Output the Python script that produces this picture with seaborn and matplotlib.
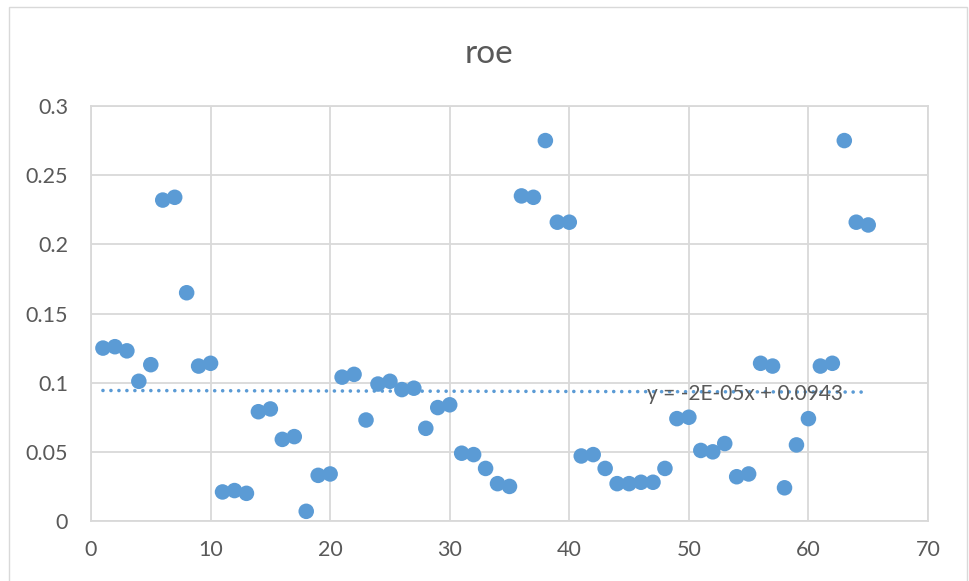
import numpy as np
import pandas as pd
import matplotlib
matplotlib.use("Agg")
import matplotlib.pyplot as plt
import seaborn as sns
from matplotlib.patches import Rectangle

x_vals = list(range(1, 66))
roe = [0.125, 0.126, 0.123, 0.101, 0.113, 0.232, 0.234, 0.165, 0.112, 0.114,
       0.021, 0.022, 0.020, 0.079, 0.081, 0.059, 0.061, 0.007, 0.033, 0.034,
       0.104, 0.106, 0.073, 0.099, 0.101, 0.095, 0.096, 0.067, 0.082, 0.084,
       0.049, 0.048, 0.038, 0.027, 0.025, 0.235, 0.234, 0.275, 0.216, 0.216,
       0.047, 0.048, 0.038, 0.027, 0.027, 0.028, 0.028, 0.038, 0.074, 0.075,
       0.051, 0.050, 0.056, 0.032, 0.034, 0.114, 0.112, 0.024, 0.055, 0.074,
       0.112, 0.114, 0.275, 0.216, 0.214]
title = "roe"
trend_label = "y = -2E-05x + 0.0943"
x_ticks = [0, 10, 20, 30, 40, 50, 60, 70]
y_ticks = [0, 0.05, 0.1, 0.15, 0.2, 0.25, 0.3]
y_tick_labels = ["0", "0.05", "0.1", "0.15", "0.2", "0.25", "0.3"]

df = pd.DataFrame({"x": x_vals, "roe": roe})

sns.set_theme(style="white")
plt.rcParams["font.family"] = ["Lato", "DejaVu Sans"]

W, H = 969, 581
fig = plt.figure(figsize=(W / 100, H / 100), dpi=100)
ax = fig.add_axes([91 / W, (H - 521) / H, (928 - 91) / W, (521 - 106) / H])

grid_c = "#D9D9D9"
blue = "#5B9BD5"
text_c = "#595959"

# outer chart border
fig.patches.append(Rectangle((9 / W, -0.01), (967 - 9) / W, (H - 7) / H + 0.01,
                             transform=fig.transFigure, fill=False,
                             edgecolor=grid_c, linewidth=1.0))

sns.regplot(data=df, x="x", y="roe", scatter=False, ci=None, ax=ax,
            line_kws=dict(color=blue, linewidth=2.6, linestyle=(0, (0.01, 2.2)),
                          dash_capstyle="round", zorder=2))
sns.scatterplot(data=df, x="x", y="roe", ax=ax, s=125, color=blue,
                edgecolor="none", linewidth=0, zorder=3)

ax.set_xlim(0, 70)
ax.set_ylim(0, 0.3)
ax.set_xticks(x_ticks)
ax.set_yticks(y_ticks)
ax.set_yticklabels(y_tick_labels)
ax.grid(True, color=grid_c, linewidth=1.3)
ax.set_axisbelow(True)
for s in ax.spines.values():
    s.set_color(grid_c)
    s.set_linewidth(1.3)
ax.tick_params(axis="both", length=0, labelsize=15.5, colors=text_c)
ax.tick_params(axis="y", pad=16.5)
ax.tick_params(axis="x", pad=13.5)
ax.set_xlabel("")
ax.set_ylabel("")

ax.text(54.7, 0.0918, trend_label, ha="center", va="center", fontsize=15,
        color=text_c, zorder=4)

fig.text(489 / W, 1 - 54 / H, title, ha="center", va="center",
         fontsize=24, color=text_c)

fig.savefig("out.png", dpi=100)
